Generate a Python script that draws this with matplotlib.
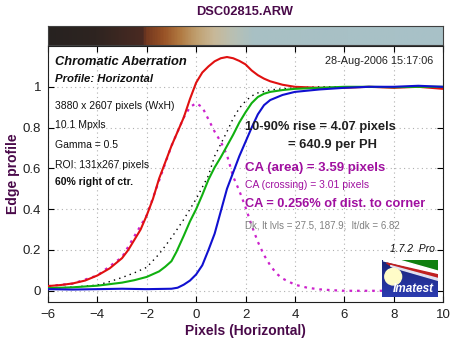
import numpy as np
import matplotlib
matplotlib.use("Agg")
import matplotlib.pyplot as plt
from matplotlib.colors import LinearSegmentedColormap
from matplotlib.patches import Polygon, Ellipse

plt.rcParams['font.family'] = ['Liberation Sans', 'DejaVu Sans']

# edge profiles, one per channel (pixels vs normalized level)
red_x = [-6, -5.5, -5, -4.5, -4, -3.5, -3, -2.75, -2.5, -2.25, -2, -1.75, -1.5, -1.25, -1, -0.75, -0.5, -0.25,
         0, 0.25, 0.5, 0.75, 1, 1.25, 1.5, 1.75, 2, 2.25, 2.5, 2.75, 3, 3.5, 4, 5, 6, 7, 8, 9, 10]
red_y = [0.023, 0.028, 0.036, 0.05, 0.075, 0.11, 0.16, 0.2, 0.25, 0.3, 0.37, 0.45, 0.55, 0.63, 0.71, 0.78,
         0.85, 0.94, 1.02, 1.07, 1.1, 1.125, 1.14, 1.146, 1.14, 1.127, 1.11, 1.08, 1.057, 1.04, 1.027, 1.01,
         1.0, 0.995, 0.995, 1.0, 0.995, 1.0, 0.99]

green_x = [-6, -5, -4, -3, -2.5, -2, -1.5, -1.25, -1, -0.8, -0.5, -0.25, 0, 0.25, 0.5, 0.75, 1, 1.25, 1.5,
           1.75, 2, 2.25, 2.5, 2.75, 3, 3.5, 4, 5, 6, 7, 8, 9, 10]
green_y = [0.013, 0.017, 0.025, 0.04, 0.052, 0.068, 0.095, 0.118, 0.145, 0.19, 0.27, 0.34, 0.40, 0.47, 0.545,
           0.605, 0.655, 0.71, 0.765, 0.825, 0.875, 0.92, 0.95, 0.966, 0.975, 0.984, 0.99, 0.995, 1.0, 1.0,
           0.998, 1.0, 1.0]

blue_x = [-6, -5, -4, -3, -2, -1, -0.75, -0.5, -0.25, 0, 0.25, 0.5, 0.75, 1, 1.25, 1.5, 1.75, 2, 2.25, 2.5,
          2.75, 3, 3.5, 4, 5, 6, 7, 8, 9, 10]
blue_y = [0.008, 0.006, 0.008, 0.01, 0.008, 0.01, 0.015, 0.03, 0.05, 0.08, 0.125, 0.2, 0.28, 0.39, 0.5, 0.58,
          0.66, 0.73, 0.8, 0.865, 0.91, 0.935, 0.96, 0.975, 0.987, 0.995, 1.0, 1.0, 1.005, 1.0]

# luminance profile
lum_x = [-6, -5, -4, -3.5, -3, -2.5, -2, -1.5, -1.25, -1, -0.5, 0, 0.5, 0.75, 1, 1.25, 1.5, 1.75, 2, 2.25,
         2.5, 3, 4, 5, 6, 7, 8, 9, 10]
lum_y = [0.012, 0.018, 0.028, 0.045, 0.065, 0.088, 0.115, 0.18, 0.22, 0.26, 0.35, 0.45, 0.565, 0.66, 0.72,
         0.78, 0.845, 0.895, 0.93, 0.955, 0.97, 0.985, 0.995, 1.0, 1.0, 1.0, 1.0, 1.0, 1.0]

# chromatic difference curve
ca_x = [-6, -5, -4, -3, -2, -1, -0.5, -0.25, 0, 0.25, 0.5, 0.75, 1, 1.25, 1.5, 1.75, 2, 2.25, 2.5, 2.75, 3,
        3.25, 3.5, 4, 4.5, 5, 5.5, 6, 7, 8]
ca_y = [0.023, 0.035, 0.075, 0.165, 0.37, 0.71, 0.85, 0.9, 0.92, 0.9, 0.84, 0.78, 0.73, 0.665, 0.56, 0.49,
        0.41, 0.32, 0.24, 0.175, 0.125, 0.085, 0.06, 0.03, 0.015, 0.007, 0.003, 0.0, 0.0, 0.0]

# color strip along the edge
strip_pos = [-6, -4.1, -2.2, -2.07, -1.35, -0.7, 0.0, 0.7, 1.5, 2.3, 10]
strip_col = ['#272220', '#2e2420', '#4a2a22', '#723820', '#985226', '#b07840', '#c0a070', '#c8b898',
             '#b8c0b4', '#a8c0c4', '#a8c2c8']

W, H = 461, 341
PURPLE = '#4a0a4a'
CA_COL = '#a010a0'


def fx(px):
    return px / W


def fy(py):
    return 1 - py / H


fig = plt.figure(figsize=(W / 100, H / 100), dpi=100)

ax = fig.add_axes([fx(48), fy(302), (443 - 48) / W, (302 - 46) / H])
ax.set_xlim(-6, 10)
ax.set_ylim(-0.055, 1.2)
ax.set_xticks(range(-6, 11, 2))
ax.set_yticks([0, 0.2, 0.4, 0.6, 0.8, 1])
ax.set_yticklabels(['0', '0.2', '0.4', '0.6', '0.8', '1'])
ax.tick_params(direction='in', length=4, width=0.8, top=True, right=True, labelsize=9.5,
               labelcolor='#202020', pad=5)
ax.grid(True, linestyle=(0, (1, 3)), color='#b0b0b0', linewidth=0.8)
for s in ax.spines.values():
    s.set_color('#202020')
    s.set_linewidth(0.8)

ax.plot(ca_x, ca_y, color='#cc22cc', linestyle=(0, (1.2, 2.2)), linewidth=1.6, zorder=2)
ax.plot(lum_x, lum_y, color='black', linestyle=(0, (1, 3)), linewidth=1.0, zorder=3)
ax.plot(red_x, red_y, color='#e01010', linewidth=1.5, zorder=4)
ax.plot(green_x, green_y, color='#10b010', linewidth=1.5, zorder=4)
ax.plot(blue_x, blue_y, color='#1010d0', linewidth=1.5, zorder=5)

ax.set_xlabel('Pixels (Horizontal)', fontsize=10, fontweight='bold', color=PURPLE, labelpad=2)
ax.set_ylabel('Edge profile', fontsize=10, fontweight='bold', color=PURPLE, labelpad=2)

# color strip
cax = fig.add_axes([fx(48), fy(45), (443 - 48) / W, 19 / H])
stops = [(p - strip_pos[0]) / (strip_pos[-1] - strip_pos[0]) for p in strip_pos]
cmap = LinearSegmentedColormap.from_list('edge', list(zip(stops, strip_col)))
cax.imshow(np.linspace(0, 1, 400)[None, :], cmap=cmap, aspect='auto', extent=[-6, 10, 0, 1])
cax.set_xticks([])
cax.set_yticks([])
for s in cax.spines.values():
    s.set_color('#404040')
    s.set_linewidth(0.8)

fig.text(fx(245), fy(12), 'DSC02815.ARW', fontsize=9.3, fontweight='bold', color=PURPLE,
         ha='center', va='center')

# info text
fig.text(fx(55), fy(62), 'Chromatic Aberration', fontsize=9.3, fontweight='bold', style='italic',
         color='#101010', va='center')
fig.text(fx(55), fy(79), 'Profile: Horizontal', fontsize=8.2, fontweight='bold', style='italic',
         color='#101010', va='center')
left_lines = [('3880 x 2607 pixels (WxH)', 106, 'normal'), ('10.1 Mpxls', 125, 'normal'),
              ('Gamma = 0.5', 145, 'normal'), ('ROI: 131x267 pixels', 165, 'normal'),
              ('60% right of ctr.', 182, 'bold')]
for txt, py, wt in left_lines:
    fig.text(fx(55), fy(py), txt, fontsize=7.5, fontweight=wt, color='#101010', va='center')

fig.text(fx(433), fy(61), '28-Aug-2006 15:17:06', fontsize=7.8, color='#202020', ha='right', va='center')

fig.text(fx(245), fy(127), '10-90% rise = 4.07 pixels', fontsize=9.3, fontweight='bold',
         color='#202020', va='center')
fig.text(fx(288), fy(145), '= 640.9 per PH', fontsize=9.3, fontweight='bold', color='#202020', va='center')
fig.text(fx(245), fy(168), 'CA (area) = 3.59 pixels', fontsize=9.5, fontweight='bold', color=CA_COL,
         va='center')
fig.text(fx(245), fy(185), 'CA (crossing) = 3.01 pixels', fontsize=7.5, color=CA_COL, va='center')
fig.text(fx(245), fy(204), 'CA = 0.256% of dist. to corner', fontsize=9.2, fontweight='bold', color=CA_COL,
         va='center')
fig.text(fx(245), fy(226), 'Dk, lt lvls = 27.5, 187.9;  lt/dk = 6.82', fontsize=7, color='#808080',
         va='center')
fig.text(fx(435), fy(249), '1.7.2  Pro', fontsize=7.5, style='italic', color='#101010', ha='right',
         va='center')

# logo
lax = fig.add_axes([fx(382), fy(297), 56 / W, 37 / H])
lax.set_xlim(0, 1)
lax.set_ylim(0, 1)
grad = np.linspace(0, 1, 50)[:, None] * np.ones((1, 50))
lax.imshow(grad, cmap=LinearSegmentedColormap.from_list('bg', ['#2c3cb0', '#1a2478']),
           aspect='auto', extent=[0, 1, 0, 1], origin='lower')
lax.add_patch(Polygon([(0.3, 1), (1, 1), (1, 0.7), (0.6, 0.86)], color='#108010'))
lax.add_patch(Polygon([(0.02, 0.98), (0.3, 1), (1, 0.7), (1, 0.6)], color='white'))
lax.add_patch(Polygon([(0.08, 0.92), (1, 0.6), (1, 0.5), (0.15, 0.85)], color='#c02020'))
lax.add_patch(Polygon([(0.15, 0.85), (1, 0.5), (1, 0.45), (0.2, 0.8)], color='#e0e0f0'))
lax.add_patch(Ellipse((0.2, 0.55), 0.3, 0.45, color='#fffcc8'))
lax.text(0.55, 0.22, 'Imatest', fontsize=8.5, fontweight='bold', style='italic', color='white',
         ha='center', va='center')
lax.set_xticks([])
lax.set_yticks([])
for s in lax.spines.values():
    s.set_visible(False)

fig.savefig('out.png', dpi=100)
